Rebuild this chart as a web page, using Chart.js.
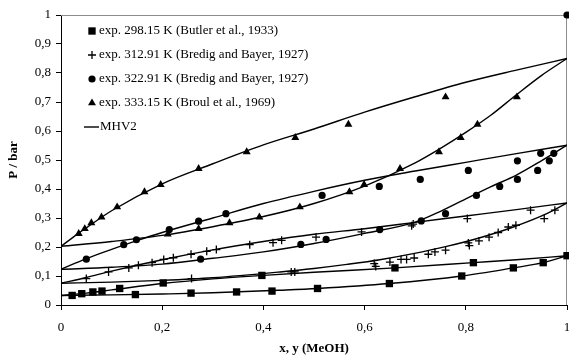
<!DOCTYPE html>
<html>
<head>
<meta charset="utf-8">
<script src="https://cdn.jsdelivr.net/npm/chart.js@4/dist/chart.umd.min.js"></script>
<style>
  html, body { margin: 0; padding: 0; background: #fff; }
</style>
</head>
<body>
<canvas id="vleChart" width="569" height="356"></canvas>
<script>
// ── axis ticks ──
const xTickLabels = ['0', '0,2', '0,4', '0,6', '0,8', '1'];
const yTickLabels = ['0', '0,1', '0,2', '0,3', '0,4', '0,5', '0,6', '0,7', '0,8', '0,9', '1'];

// ── experimental points (x or y of MeOH, P in bar) ──
const exp298X = [0.022, 0.041, 0.063, 0.081, 0.116, 0.147, 0.202, 0.257, 0.347, 0.397, 0.417, 0.507, 0.649, 0.660, 0.792, 0.815, 0.894, 0.953, 1.0];
const exp298P = [0.033, 0.039, 0.045, 0.048, 0.057, 0.036, 0.076, 0.041, 0.045, 0.102, 0.048, 0.057, 0.074, 0.128, 0.100, 0.146, 0.128, 0.146, 0.170];

const exp312X = [0.050, 0.094, 0.134, 0.153, 0.180, 0.203, 0.222, 0.257, 0.288, 0.307, 0.373, 0.419, 0.436, 0.504, 0.594, 0.693, 0.696, 0.803, 0.928,
                 0.258, 0.455, 0.462, 0.619, 0.622, 0.650, 0.672, 0.683, 0.698, 0.726, 0.739, 0.760, 0.805, 0.807, 0.826, 0.846, 0.864, 0.884, 0.899, 0.955, 0.976];
const exp312P = [0.091, 0.114, 0.128, 0.137, 0.146, 0.157, 0.163, 0.175, 0.185, 0.191, 0.208, 0.215, 0.223, 0.234, 0.252, 0.273, 0.279, 0.298, 0.327,
                 0.091, 0.114, 0.114, 0.143, 0.133, 0.148, 0.157, 0.157, 0.162, 0.175, 0.183, 0.189, 0.214, 0.205, 0.221, 0.234, 0.250, 0.269, 0.275, 0.298, 0.327];

const exp322X = [0.050, 0.124, 0.149, 0.214, 0.272, 0.326, 0.516, 0.629, 0.710, 0.805, 0.902, 0.948,
                 0.276, 0.474, 0.524, 0.630, 0.712, 0.760, 0.821, 0.867, 0.902, 0.942, 0.965, 0.974, 1.0];
const exp322P = [0.158, 0.208, 0.225, 0.260, 0.289, 0.315, 0.378, 0.409, 0.433, 0.464, 0.497, 0.523,
                 0.158, 0.209, 0.226, 0.260, 0.290, 0.315, 0.378, 0.409, 0.433, 0.464, 0.497, 0.523, 1.0];

const exp333X = [0.035, 0.047, 0.060, 0.080, 0.111, 0.165, 0.197, 0.272, 0.367, 0.463, 0.568, 0.760,
                 0.211, 0.272, 0.333, 0.392, 0.472, 0.570, 0.599, 0.670, 0.747, 0.790, 0.823, 0.901];
const exp333P = [0.246, 0.263, 0.283, 0.303, 0.338, 0.390, 0.415, 0.470, 0.528, 0.577, 0.623, 0.717,
                 0.244, 0.263, 0.283, 0.303, 0.338, 0.390, 0.415, 0.470, 0.528, 0.577, 0.623, 0.717];

// ── MHV2 model curves ──
const mhv298BubX = [0, 0.05, 0.1, 0.2, 0.3, 0.4, 0.5, 0.66, 0.815, 0.9, 1];
const mhv298BubP = [0.033, 0.041, 0.052, 0.074, 0.090, 0.102, 0.113, 0.128, 0.146, 0.156, 0.170];
const mhv298DewX = [0, 0.1, 0.2, 0.3, 0.433, 0.507, 0.649, 0.792, 0.894, 0.953, 1];
const mhv298DewP = [0.033, 0.035, 0.038, 0.042, 0.051, 0.057, 0.074, 0.100, 0.128, 0.146, 0.170];

const mhv312BubX = [0, 0.05, 0.1, 0.2, 0.3, 0.4, 0.5, 0.6, 0.7, 0.8, 0.9, 1];
const mhv312BubP = [0.075, 0.095, 0.117, 0.156, 0.190, 0.219, 0.244, 0.263, 0.285, 0.307, 0.329, 0.352];
const mhv312DewX = [0, 0.1, 0.2, 0.3, 0.433, 0.5, 0.565, 0.63, 0.696, 0.762, 0.828, 0.894, 0.96, 1];
const mhv312DewP = [0.075, 0.079, 0.085, 0.094, 0.114, 0.126, 0.140, 0.156, 0.177, 0.202, 0.232, 0.269, 0.315, 0.352];

const mhv322BubX = [0, 0.05, 0.1, 0.15, 0.2, 0.3, 0.4, 0.5, 0.6, 0.7, 0.8, 0.9, 1];
const mhv322BubP = [0.123, 0.160, 0.192, 0.222, 0.250, 0.300, 0.350, 0.392, 0.430, 0.462, 0.492, 0.522, 0.551];
const mhv322DewX = [0, 0.1, 0.2, 0.3, 0.4, 0.5, 0.6, 0.7, 0.75, 0.8, 0.85, 0.9, 0.95, 1];
const mhv322DewP = [0.123, 0.130, 0.141, 0.161, 0.183, 0.212, 0.247, 0.286, 0.323, 0.366, 0.408, 0.448, 0.498, 0.551];

const mhv333BubX = [0, 0.035, 0.05, 0.1, 0.2, 0.3, 0.4, 0.5, 0.6, 0.7, 0.8, 0.9, 1];
const mhv333BubP = [0.202, 0.248, 0.266, 0.325, 0.418, 0.487, 0.552, 0.607, 0.665, 0.718, 0.768, 0.810, 0.850];
const mhv333DewX = [0, 0.1, 0.2, 0.3, 0.4, 0.5, 0.6, 0.7, 0.75, 0.8, 0.85, 0.9, 0.95, 1];
const mhv333DewP = [0.202, 0.219, 0.240, 0.270, 0.305, 0.350, 0.410, 0.490, 0.540, 0.595, 0.655, 0.725, 0.792, 0.850];

const legendLabels = [
  'exp. 298.15 K (Butler et al., 1933)',
  'exp. 312.91 K (Bredig and Bayer, 1927)',
  'exp. 322.91 K (Bredig and Bayer, 1927)',
  'exp. 333.15 K (Broul et al., 1969)',
  'MHV2'
];

const SERIF = '"Liberation Serif", "Times New Roman", serif';

function pts(xs, ps) {
  return xs.map((x, i) => ({ x: x, y: ps[i] }));
}

function expSet(label, xs, ps, style, radius) {
  return {
    label: label,
    data: pts(xs, ps),
    showLine: false,
    pointStyle: style,
    pointRadius: radius,
    pointHoverRadius: radius,
    backgroundColor: '#000',
    borderColor: '#000',
    borderWidth: style === 'cross' ? 1.3 : 0,
    clip: false,
  };
}

function curveSet(xs, ps) {
  return {
    label: 'MHV2',
    data: pts(xs, ps),
    showLine: true,
    pointRadius: 0,
    borderColor: '#000',
    borderWidth: 1.4,
    cubicInterpolationMode: 'monotone',
  };
}

// legend drawn inside the plot, top left
const legendPlugin = {
  id: 'insideLegend',
  afterDraw(chart) {
    const ctx = chart.ctx;
    const area = chart.chartArea;
    ctx.save();
    ctx.font = '13px ' + SERIF;
    ctx.textBaseline = 'middle';
    ctx.fillStyle = '#000';
    ctx.strokeStyle = '#000';
    legendLabels.forEach((label, i) => {
      const y = area.top + 16 + i * 24;
      if (i < 4) {
        const ds = chart.data.datasets[i];
        ctx.lineWidth = ds.borderWidth;
        Chart.helpers.drawPoint(ctx, {
          pointStyle: ds.pointStyle,
          radius: ds.pointRadius,
          borderWidth: ds.borderWidth,
          rotation: 0,
        }, area.left + 31, y);
        ctx.fillText(label, area.left + 38, y);
      } else {
        ctx.lineWidth = 1.4;
        ctx.beginPath();
        ctx.moveTo(area.left + 23, y);
        ctx.lineTo(area.left + 38, y);
        ctx.stroke();
        ctx.fillText(label, area.left + 39, y);
      }
    });
    ctx.restore();
  }
};

// grey frame on the top and right side of the plot
const framePlugin = {
  id: 'plotFrame',
  beforeDatasetsDraw(chart) {
    const ctx = chart.ctx;
    const a = chart.chartArea;
    ctx.save();
    ctx.strokeStyle = '#8c8c8c';
    ctx.lineWidth = 1;
    ctx.beginPath();
    ctx.moveTo(a.left, a.top + 0.5);
    ctx.lineTo(a.right - 0.5, a.top + 0.5);
    ctx.lineTo(a.right - 0.5, a.bottom);
    ctx.stroke();
    ctx.restore();
  }
};

new Chart(document.getElementById('vleChart'), {
  type: 'scatter',
  data: {
    datasets: [
      expSet(legendLabels[0], exp298X, exp298P, 'rect', 5.2),
      expSet(legendLabels[1], exp312X, exp312P, 'cross', 4),
      expSet(legendLabels[2], exp322X, exp322P, 'circle', 3.6),
      expSet(legendLabels[3], exp333X, exp333P, 'triangle', 4.6),
      curveSet(mhv298BubX, mhv298BubP),
      curveSet(mhv298DewX, mhv298DewP),
      curveSet(mhv312BubX, mhv312BubP),
      curveSet(mhv312DewX, mhv312DewP),
      curveSet(mhv322BubX, mhv322BubP),
      curveSet(mhv322DewX, mhv322DewP),
      curveSet(mhv333BubX, mhv333BubP),
      curveSet(mhv333DewX, mhv333DewP),
    ],
  },
  options: {
    responsive: false,
    animation: false,
    events: [],
    layout: { autoPadding: false, padding: { top: 15, right: 2, left: 0, bottom: 0 } },
    plugins: {
      legend: { display: false },
      tooltip: { enabled: false },
    },
    scales: {
      x: {
        type: 'linear',
        min: 0,
        max: 1,
        afterFit: (scale) => {
          scale.height = 51;
          scale.paddingLeft = 0;
          scale.paddingRight = 0;
        },
        ticks: {
          stepSize: 0.2,
          color: '#000',
          padding: 10,
          font: { family: SERIF, size: 13 },
          callback: (v, i) => xTickLabels[i],
        },
        grid: { drawOnChartArea: false, tickLength: 5, color: '#000' },
        border: { color: '#000', width: 1 },
        title: {
          display: true,
          text: 'x, y (MeOH)',
          color: '#000',
          font: { family: SERIF, size: 13, weight: 'bold' },
          padding: { top: 0, bottom: 0 },
        },
      },
      y: {
        type: 'linear',
        min: 0,
        max: 1,
        afterFit: (scale) => {
          scale.width = 61;
          scale.paddingTop = 0;
          scale.paddingBottom = 0;
        },
        ticks: {
          stepSize: 0.1,
          color: '#000',
          padding: 5,
          font: { family: SERIF, size: 13 },
          callback: (v, i) => yTickLabels[i],
        },
        grid: { drawOnChartArea: false, tickLength: 5, color: '#000' },
        border: { color: '#000', width: 1 },
        title: {
          display: true,
          text: 'P / bar',
          color: '#000',
          font: { family: SERIF, size: 13, weight: 'bold' },
          padding: { top: 6, bottom: 0 },
        },
      },
    },
  },
  plugins: [framePlugin, legendPlugin],
});
</script>
</body>
</html>
